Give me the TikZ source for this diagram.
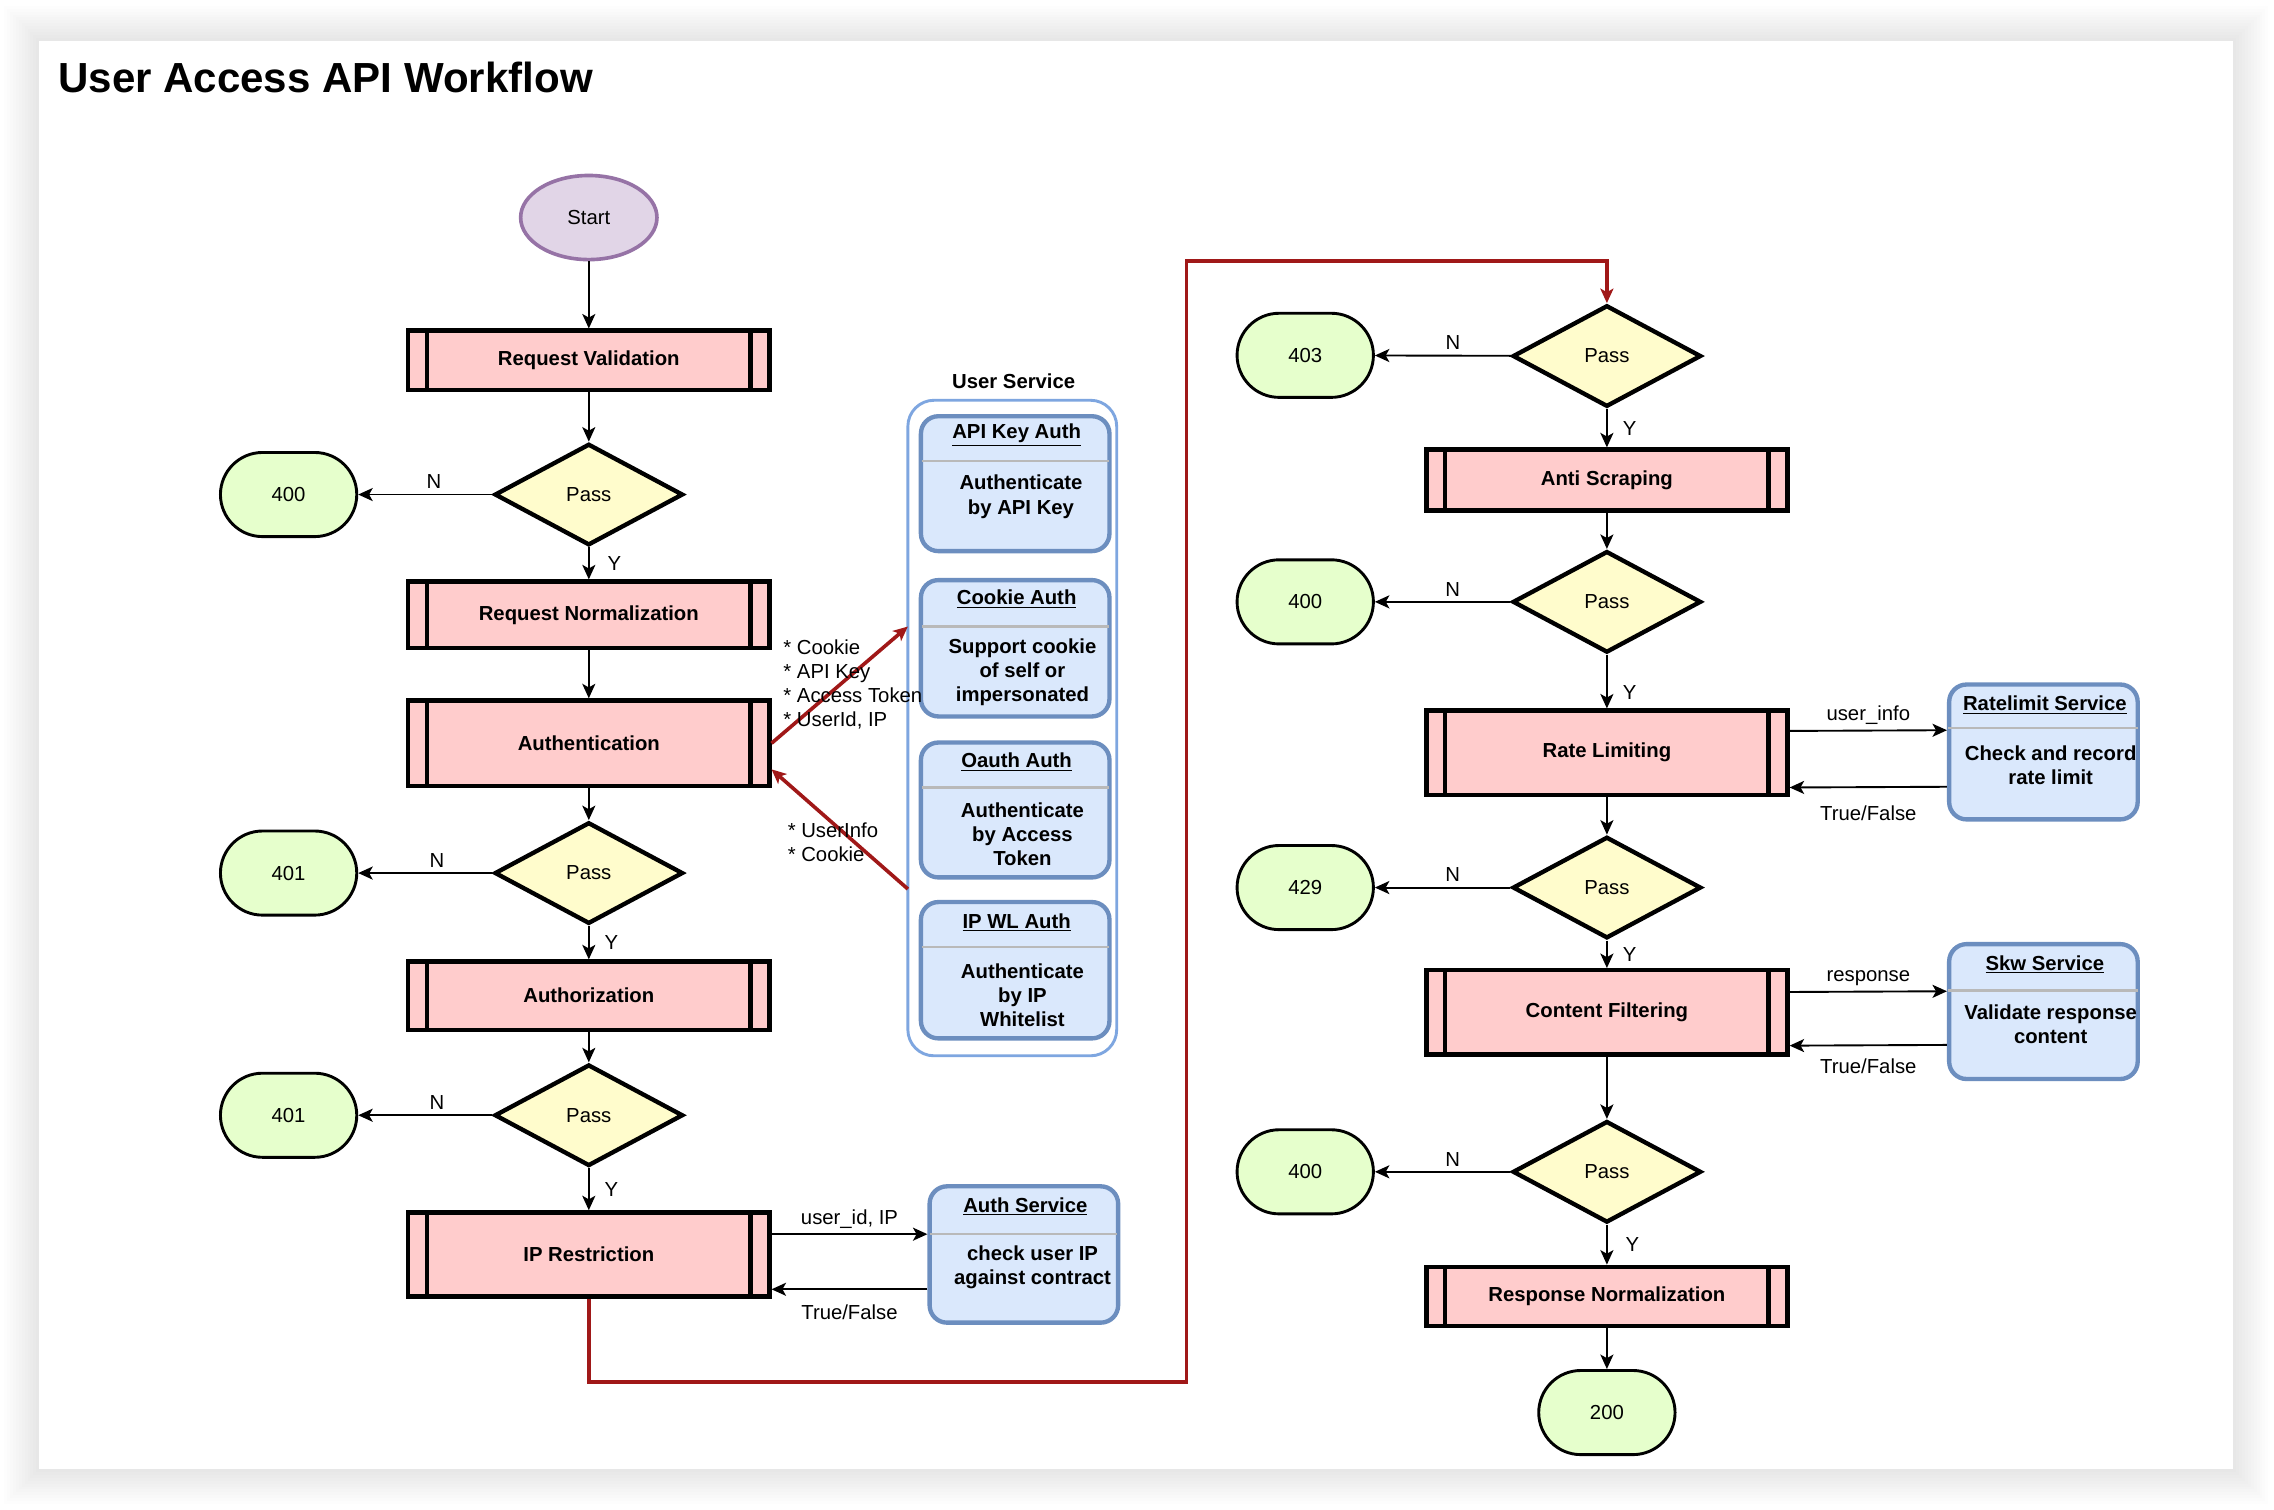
\documentclass[tikz,border=0pt]{standalone}
\usepackage{fontspec}
\setmainfont{Liberation Sans}
\usetikzlibrary{shapes.geometric,arrows.meta}

\definecolor{procpink}{HTML}{FFCCCC}
\definecolor{decyellow}{HTML}{FFFCCC}
\definecolor{termgreen}{HTML}{E6FFCC}
\definecolor{startfill}{HTML}{E1D5E7}
\definecolor{startdraw}{HTML}{9673A6}
\definecolor{svcfill}{HTML}{DAE8FC}
\definecolor{svcdraw}{HTML}{6C8EBF}
\definecolor{usdraw}{HTML}{7EA6E0}
\definecolor{flowred}{HTML}{A01818}

\begin{document}
\begin{tikzpicture}[x=1pt,y=-1pt,
  >={Stealth[length=10pt,width=9pt,inset=2.5pt]},
  every node/.style={font=\fontsize{14}{17}\selectfont},
  proc/.style={draw,line width=3pt,fill=procpink,minimum width=249pt,
    font=\fontsize{14}{17}\selectfont\bfseries,
    path picture={\draw[line width=3pt]
      ([xshift=13pt]path picture bounding box.north west) -- ([xshift=13pt]path picture bounding box.south west)
      ([xshift=-13pt]path picture bounding box.north east) -- ([xshift=-13pt]path picture bounding box.south east);}},
  dec/.style={diamond,draw,line width=3pt,fill=decyellow,minimum width=130pt,minimum height=70pt,inner sep=0pt},
  term/.style={rectangle,rounded corners=29pt,draw,line width=2pt,fill=termgreen,minimum width=94pt,minimum height=58pt},
  startnode/.style={ellipse,draw=startdraw,fill=startfill,line width=2.5pt,minimum width=94pt,minimum height=58pt},
  flow/.style={->,line width=1.3pt},
  redflow/.style={->,draw=flowred,line width=2.5pt},
  svc/.style={draw=svcdraw,fill=svcfill,line width=3pt,rounded corners=12pt,minimum width=130pt},
  svctitle/.style={font=\fontsize{14}{17}\selectfont\bfseries},
  svcbody/.style={align=center,font=\fontsize{14}{16.6}\selectfont\bfseries},
  hdrline/.style={draw=gray!55,line width=1.5pt},
  ]
  \useasboundingbox (0,0) rectangle (1568,1041);

  % page, shadow and card
  \fill[white] (0,0) rectangle (1568,1041);
  \foreach \d in {2,4,...,24}
    \fill[black,opacity=0.007] (27-\d,28-\d) rectangle (1540+\d,1013+\d);
  \fill[white] (27,28) rectangle (1540,1013);

  \node[anchor=base west,inner sep=0pt,font=\fontsize{29}{33}\selectfont\bfseries] (title) at (40,64) {User Access API Workflow};

  % left column
  \node[startnode] (start) at (406,150) {Start};
  \node[proc,minimum height=41pt] (reqval) at (406,248.5) {Request Validation};
  \node[dec] (p1) at (406,341) {Pass};
  \node[term] (e400a) at (199,341) {400};
  \node[proc,minimum height=46pt] (reqnorm) at (406,424) {Request Normalization};
  \node[proc,minimum height=59pt] (authn) at (406,512.5) {Authentication};
  \node[dec] (p2) at (406,602) {Pass};
  \node[term] (e401a) at (199,602) {401};
  \node[proc,minimum height=47pt] (authz) at (406,686.5) {Authorization};
  \node[dec] (p3) at (406,769) {Pass};
  \node[term] (e401b) at (199,769) {401};
  \node[proc,minimum height=58pt] (iprest) at (406,865) {IP Restriction};

  \draw[flow] (start) -- (reqval);
  \draw[flow] (reqval) -- (p1);
  \draw[flow] (p1) -- node[above,xshift=6pt] {N} (e400a);
  \draw[flow] (p1) -- node[right=9pt] {Y} (reqnorm);
  \draw[flow] (reqnorm) -- (authn);
  \draw[flow] (authn) -- (p2);
  \draw[flow] (p2) -- node[above,xshift=8pt] {N} (e401a);
  \draw[flow] (p2) -- node[right=7pt] {Y} (authz);
  \draw[flow] (authz) -- (p3);
  \draw[flow] (p3) -- node[above,xshift=8pt] {N} (e401b);
  \draw[flow] (p3) -- node[right=7pt] {Y} (iprest);

  % user service
  \draw[draw=usdraw,line width=2pt,rounded corners=18pt] (626,276) rectangle (770,728);
  \node[svctitle] (ustitle) at (699,263) {User Service};

  \node[svc,minimum height=93pt] (apikey) at (700,333.5) {};
  \draw[hdrline] (635.5,318) -- (764.5,318);
  \node[svctitle] at (701,300) {\underline{API Key Auth}};
  \node[svcbody] at (704,342.5) {Authenticate\\by API Key};

  \node[svc,minimum height=94pt] (cookie) at (700,447) {};
  \draw[hdrline] (635.5,432) -- (764.5,432);
  \node[svctitle] at (701,413) {\underline{Cookie Auth}};
  \node[svcbody] at (705,463.5) {Support cookie\\of self or\\impersonated};

  \node[svc,minimum height=93pt] (oauth) at (700,558.5) {};
  \draw[hdrline] (635.5,543) -- (764.5,543);
  \node[svctitle] at (701,525.5) {\underline{Oauth Auth}};
  \node[svcbody] at (705,575.5) {Authenticate\\by Access\\Token};

  \node[svc,minimum height=94pt] (ipwl) at (700,669) {};
  \draw[hdrline] (635.5,653) -- (764.5,653);
  \node[svctitle] at (701,636) {\underline{IP WL Auth}};
  \node[svcbody] at (705,686.5) {Authenticate\\by IP\\Whitelist};

  \coordinate (usin) at (626,432);
  \coordinate (usout) at (626,613);
  \draw[redflow] (authn.east) -- (usin);
  \draw[redflow] (usout) -- ([yshift=-18pt]authn.east);
  \node[anchor=west,align=left,inner sep=0pt,font=\fontsize{14}{16.7}\selectfont] (credlbl) at (540,472) {* Cookie\\* API Key\\* Access Token\\* UserId, IP};
  \node[anchor=west,align=left,inner sep=0pt,font=\fontsize{14}{16.7}\selectfont] (infolbl) at (543,580.5) {* UserInfo\\* Cookie};

  % auth service
  \node[svc,minimum height=94pt] (authsvc) at (706,865) {};
  \draw[hdrline] (641.5,851) -- (770.5,851);
  \node[svctitle] at (707,832) {\underline{Auth Service}};
  \node[svcbody] at (712,874) {check user IP\\against contract};
  \draw[flow] ([yshift=14pt]iprest.east) -- node[above] {user\_id, IP} ([yshift=14pt]authsvc.west);
  \draw[flow] ([yshift=-24pt]authsvc.west) -- node[below=7pt] {True/False} ([yshift=-24pt]iprest.east);

  % right column
  \node[dec] (q1) at (1108,245.5) {Pass};
  \node[term] (e403) at (900,245) {403};
  \node[proc,minimum height=42pt] (antiscr) at (1108,331) {Anti Scraping};
  \node[dec] (q2) at (1108,415) {Pass};
  \node[term] (e400b) at (900,415) {400};
  \node[proc,minimum height=58pt] (ratelim) at (1108,519) {Rate Limiting};
  \node[dec] (q3) at (1108,612) {Pass};
  \node[term] (e429) at (900,612) {429};
  \node[proc,minimum height=58pt] (content) at (1108,698) {Content Filtering};
  \node[dec] (q4) at (1108,808) {Pass};
  \node[term] (e400c) at (900,808) {400};
  \node[proc,minimum height=41pt] (respnorm) at (1108,894) {Response Normalization};
  \node[term] (e200) at (1108,974) {200};

  \coordinate (rb) at (818,953);
  \coordinate (rt) at (818,180);
  \draw[redflow] (iprest.south) |- (rb) -- (rt) -| (q1.north);

  \draw[flow] (q1) -- node[above,xshift=7pt] {N} (e403);
  \draw[flow] (q1) -- node[right=7pt] {Y} (antiscr);
  \draw[flow] (antiscr) -- (q2);
  \draw[flow] (q2) -- node[above,xshift=7pt] {N} (e400b);
  \draw[flow] (q2) -- node[right=7pt,pos=0.7] {Y} (ratelim);
  \draw[flow] (ratelim) -- (q3);
  \draw[flow] (q3) -- node[above,xshift=7pt] {N} (e429);
  \draw[flow] (q3) -- node[right=7pt] {Y} (content);
  \draw[flow] (content) -- (q4);
  \draw[flow] (q4) -- node[above,xshift=7pt] {N} (e400c);
  \draw[flow] (q4) -- node[right=9pt] {Y} (respnorm);
  \draw[flow] (respnorm) -- (e200);

  % ratelimit and skw services
  \node[svc,minimum height=93pt] (ratesvc) at (1409,518.5) {};
  \draw[hdrline] (1343.5,502) -- (1474.5,502);
  \node[svctitle] at (1410,486) {\underline{Ratelimit Service}};
  \node[svcbody] at (1414,527.5) {Check and record\\rate limit};
  \draw[flow] ([yshift=15pt]ratelim.east) -- node[above] {user\_info} ([yshift=15pt]ratesvc.west);
  \draw[flow] ([yshift=-24pt]ratesvc.west) -- node[below=9pt] {True/False} ([yshift=-24pt]ratelim.east);

  \node[svc,minimum height=93pt] (skwsvc) at (1409,697.5) {};
  \draw[hdrline] (1343.5,683) -- (1474.5,683);
  \node[svctitle] at (1410,665) {\underline{Skw Service}};
  \node[svcbody] at (1414,706.5) {Validate response\\content};
  \draw[flow] ([yshift=14pt]content.east) -- node[above] {response} ([yshift=14pt]skwsvc.west);
  \draw[flow] ([yshift=-23pt]skwsvc.west) -- node[below=5pt] {True/False} ([yshift=-23pt]content.east);
\end{tikzpicture}
\end{document}
